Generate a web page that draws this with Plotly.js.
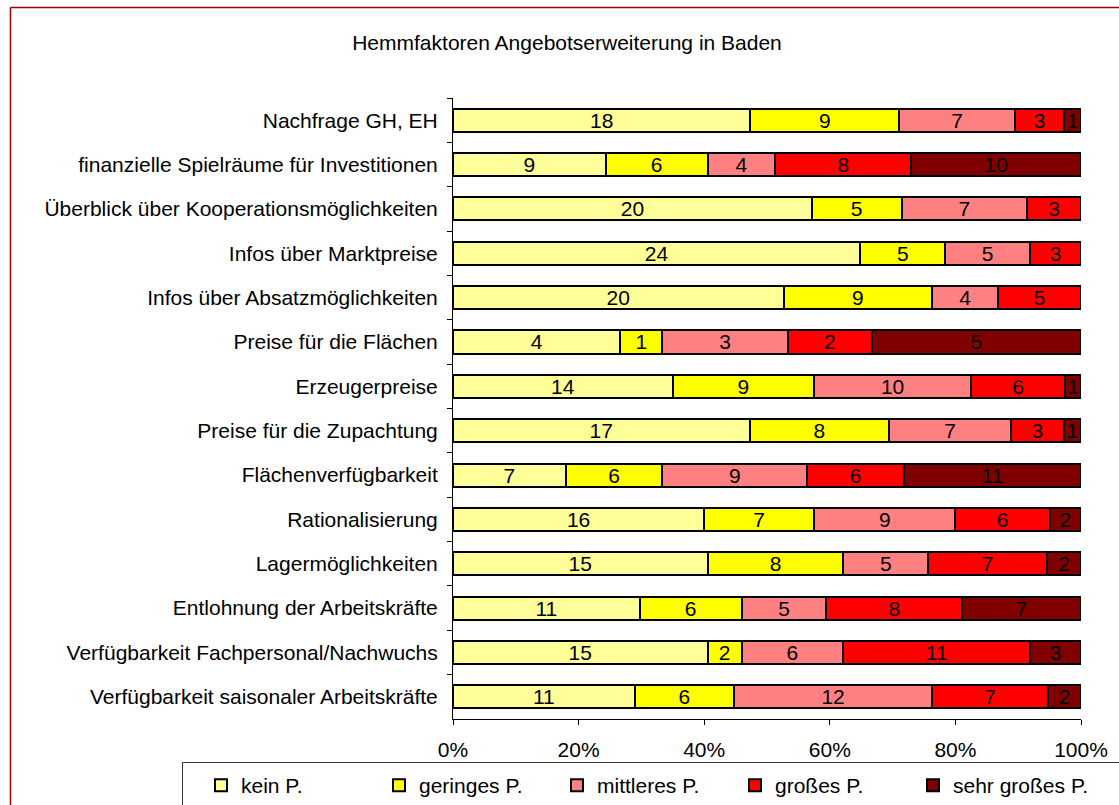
<!DOCTYPE html>
<html>
<head>
<meta charset="utf-8">
<script src="https://cdn.plot.ly/plotly-3.0.1.min.js"></script>
<style>
html,body{margin:0;padding:0;background:#fff;}
#chart{width:1119px;height:805px;}
</style>
</head>
<body>
<div id="chart"></div>
<script>
const categories = [
  "Nachfrage GH, EH",
  "finanzielle Spielräume für Investitionen",
  "Überblick über Kooperationsmöglichkeiten",
  "Infos über Marktpreise",
  "Infos über Absatzmöglichkeiten",
  "Preise für die Flächen",
  "Erzeugerpreise",
  "Preise für die Zupachtung",
  "Flächenverfügbarkeit",
  "Rationalisierung",
  "Lagermöglichkeiten",
  "Entlohnung der Arbeitskräfte",
  "Verfügbarkeit Fachpersonal/Nachwuchs",
  "Verfügbarkeit saisonaler Arbeitskräfte"
];
const seriesNames = ["kein P.", "geringes P.", "mittleres P.", "großes P.", "sehr großes P."];
const keinP      = [18,  9, 20, 24, 20, 4, 14, 17,  7, 16, 15, 11, 15, 11];
const geringesP  = [ 9,  6,  5,  5,  9, 1,  9,  8,  6,  7,  8,  6,  2,  6];
const mittleresP = [ 7,  4,  7,  5,  4, 3, 10,  7,  9,  9,  5,  5,  6, 12];
const grossesP   = [ 3,  8,  3,  3,  5, 2,  6,  3,  6,  6,  7,  8, 11,  7];
const sehrGrossP = [ 1, 10,  0,  0,  0, 5,  1,  1, 11,  2,  2,  7,  3,  2];
const colors = ["#FFFF99", "#FFFF00", "#FF8080", "#FF0000", "#800000"];

const allSeries = [keinP, geringesP, mittleresP, grossesP, sehrGrossP];
const FONT = "Arial, 'Liberation Sans', sans-serif";
const FS = 21;

const traces = allSeries.map((vals, i) => ({
  type: "bar",
  orientation: "h",
  name: seriesNames[i],
  y: categories,
  x: vals.map(v => v === 0 ? null : v),
  text: vals.map(v => v === 0 ? "" : String(v)),
  textposition: "inside",
  insidetextanchor: "middle",
  textangle: 0,
  constraintext: "none",
  textfont: {family: FONT, size: FS, color: "#000"},
  hoverinfo: "none",
  marker: {color: colors[i], line: {color: "#000", width: 2}}
}));

// plot area in px: x 453..1081, y 98..719
const L = 453, R = 1081, T = 98, B = 719;
const px2x = p => (p - L) / (R - L);
const py2y = p => (B - p) / (B - T);

const layout = {
  width: 1119, height: 805,
  margin: {l: L, r: 1119 - R, t: T, b: 805 - B, autoexpand: false},
  paper_bgcolor: "#fff", plot_bgcolor: "#fff",
  font: {family: FONT, size: FS, color: "#000"},
  barmode: "stack",
  barnorm: "percent",
  bargap: 0.48,
  showlegend: true,
  title: {
    text: "Hemmfaktoren Angebotserweiterung in Baden",
    font: {family: FONT, size: FS, color: "#000"},
    x: 567 / 1119, xanchor: "center", xref: "container",
    y: 1 - 43 / 805, yanchor: "middle", yref: "container"
  },
  xaxis: {
    range: [0, 100], dtick: 20, tick0: 0, ticksuffix: "%",
    showgrid: false, zeroline: false,
    showline: true, linecolor: "#000", linewidth: 1,
    ticks: "outside", ticklen: 5, tickcolor: "#000",
    tickfont: {family: FONT, size: FS},
    ticklabelstandoff: 7,
    fixedrange: true
  },
  yaxis: {
    type: "category",
    autorange: "reversed",
    showgrid: false, zeroline: false,
    showline: true, linecolor: "#000", linewidth: 1,
    ticks: "outside", ticklen: 5, tickcolor: "#000",
    tickson: "boundaries",
    tickfont: {family: FONT, size: FS},
    ticklabelstandoff: 10,
    fixedrange: true
  },
  legend: {
    orientation: "h",
    x: px2x(201), xanchor: "left",
    y: py2y(765), yanchor: "top",
    bgcolor: "rgba(0,0,0,0)",
    borderwidth: 0,
    font: {family: FONT, size: FS, color: "#000"},
    entrywidth: 133, entrywidthmode: "pixels",
    itemwidth: 30,
    traceorder: "normal"
  },
  shapes: [
    {type: "rect", xref: "paper", yref: "paper",
     x0: px2x(182.5), x1: px2x(1135), y0: py2y(762.5), y1: py2y(820),
     line: {color: "#333", width: 1}, fillcolor: "rgba(0,0,0,0)", layer: "below"},
    {type: "line", xref: "paper", yref: "paper",
     x0: px2x(10.5), x1: px2x(10.5), y0: py2y(7.5), y1: py2y(820),
     line: {color: "#990000", width: 1.5}},
    {type: "line", xref: "paper", yref: "paper",
     x0: px2x(10.5), x1: px2x(1135), y0: py2y(7.5), y1: py2y(7.5),
     line: {color: "#990000", width: 1.5}}
  ]
};

Plotly.newPlot("chart", traces, layout, {displayModeBar: false, staticPlot: true});
</script>
</body>
</html>
